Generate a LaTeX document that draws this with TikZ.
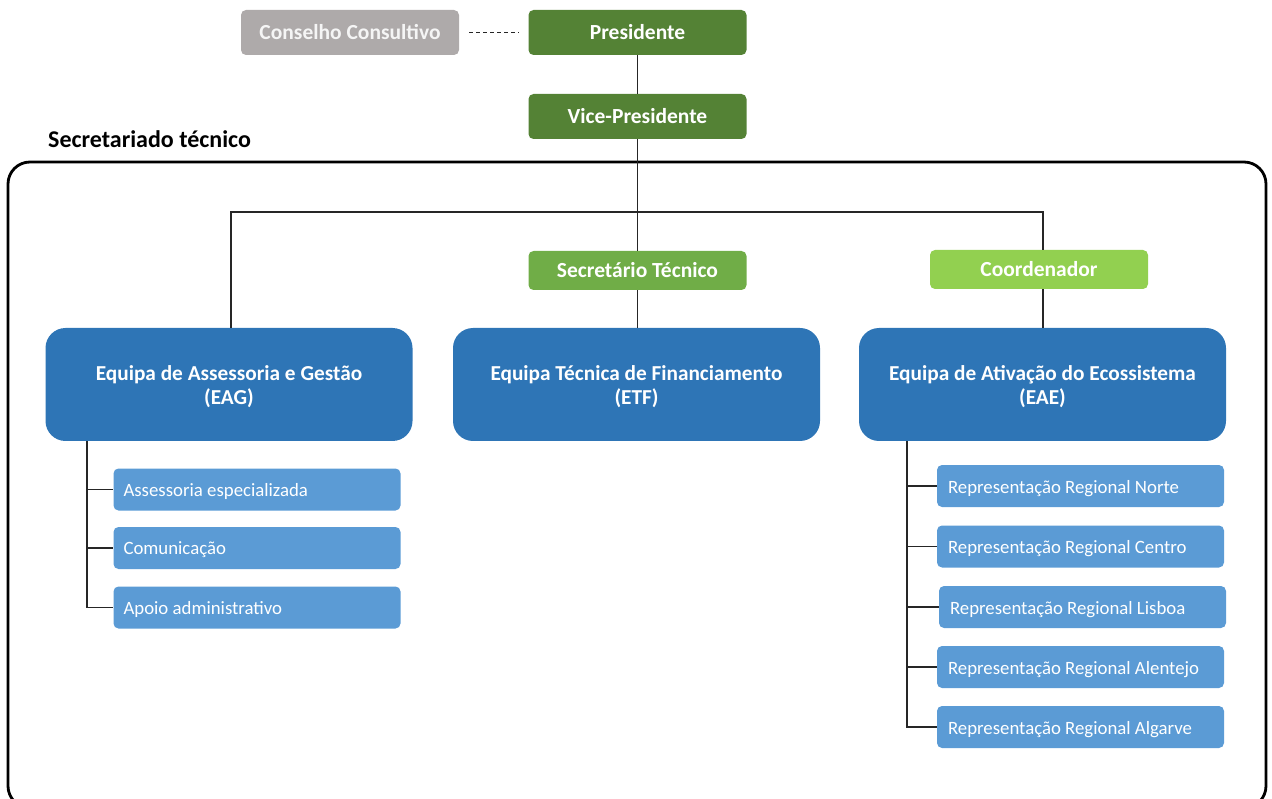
\documentclass[tikz,border=0pt]{standalone}
\usepackage{fontspec}
\setmainfont{Carlito}
\definecolor{dkgreen}{HTML}{548235}
\definecolor{mdgreen}{HTML}{70AD47}
\definecolor{ltgreen}{HTML}{92D050}
\definecolor{grayb}{HTML}{AEAAAA}
\definecolor{bigblue}{HTML}{2E75B6}
\definecolor{subblue}{HTML}{5B9BD5}
\definecolor{linec}{HTML}{262626}
\begin{document}
\begin{tikzpicture}[x=1pt,y=-1pt,
  topbox/.style={rounded corners=5pt, inner sep=0pt, minimum width=218pt, minimum height=45pt, text=white, font=\fontsize{21.5}{24}\selectfont\bfseries},
  bigbox/.style={rounded corners=20pt, inner sep=0pt, fill=bigblue, minimum width=367pt, minimum height=113pt, text=white, align=center, font=\fontsize{21.3}{24.5}\selectfont\bfseries},
  bigtxt/.style={inner sep=0pt, text=white, align=center, font=\fontsize{21.3}{24.5}\selectfont\bfseries},
  subbox/.style={rounded corners=5pt, inner sep=0pt, fill=subblue, minimum width=287pt, minimum height=42pt},
  subtxt/.style={anchor=west, inner sep=0pt, text=white, font=\fontsize{18.8}{21}\selectfont},
  conn/.style={draw=linec, line width=1.3pt}
]
\useasboundingbox (0,0) rectangle (1272,799);
% outer frame
\draw[line width=2.8pt, rounded corners=22pt] (8,162) rectangle (1266,808);
\node[anchor=base west, inner sep=0pt, font=\fontsize{24}{26}\selectfont\bfseries] (sec) at (48,147.5) {Secretariado técnico};

% top
\node[topbox, fill=grayb, text=white!92!gray] (cc) at (350,32.5) {Conselho Consultivo};
\node[topbox, fill=dkgreen] (pres) at (637.5,32.5) {Presidente};
\node[topbox, fill=dkgreen] (vice) at (637.5,116.5) {Vice-Presidente};
\node[topbox, fill=mdgreen, minimum height=39pt] (st) at (637.5,270.5) {Secretário Técnico};
\node[topbox, fill=ltgreen, minimum height=39pt] (coord) at (1039,269.5) {Coordenador};

% big boxes
\node[bigbox] (eag) at (229,384.5) {};
\node[bigbox] (etf) at (636.5,384.5) {};
\node[bigbox] (eae) at (1042.5,384.5) {};
\node[bigtxt] at ([yshift=-2pt]eag.center) {Equipa de Assessoria e Gestão\\(EAG)};
\node[bigtxt] at ([yshift=-2pt]etf.center) {Equipa Técnica de Financiamento\\(ETF)};
\node[bigtxt] at ([yshift=-2pt]eae.center) {Equipa de Ativação do Ecossistema\\(EAE)};

% sub boxes EAG
\node[subbox] (a1) at (257,489.5) {};
\node[subbox] (a2) at (257,548) {};
\node[subbox] (a3) at (257,607.5) {};
\node[subtxt] at ([xshift=10pt,yshift=-2pt]a1.west) {Assessoria especializada};
\node[subtxt] at ([xshift=10pt,yshift=-2pt]a2.west) {Comunicação};
\node[subtxt] at ([xshift=10pt,yshift=-2pt]a3.west) {Apoio administrativo};

% sub boxes EAE
\node[subbox] (r1) at (1080.5,486) {};
\node[subbox] (r2) at (1080.5,546.5) {};
\node[subbox] (r3) at (1082.5,607) {};
\node[subbox] (r4) at (1080.5,667) {};
\node[subbox] (r5) at (1080.5,727) {};
\node[subtxt] at ([xshift=11pt,yshift=-2.5pt]r1.west) {Representação Regional Norte};
\node[subtxt] at ([xshift=11pt,yshift=-2.5pt]r2.west) {Representação Regional Centro};
\node[subtxt] at ([xshift=11pt,yshift=-2.5pt]r3.west) {Representação Regional Lisboa};
\node[subtxt] at ([xshift=11pt,yshift=-2.5pt]r4.west) {Representação Regional Alentejo};
\node[subtxt] at ([xshift=11pt,yshift=-2.5pt]r5.west) {Representação Regional Algarve};

% connectors
\draw[conn, line width=1pt, dash pattern=on 4pt off 3pt] ([xshift=10pt]cc.east) -- ([xshift=-10pt]pres.west);
\draw[conn] (pres.south) -- (vice.north);
\coordinate (bar) at (637.5,212);
\draw[conn] (vice.south) -- (st.north);
\draw[conn] (st.south) -- (etf.north -| st.south);
\draw[conn] (eag.north -| 231,0) |- (bar) -| (coord.north -| 1043,0);
\draw[conn] (coord.south -| 1043,0) -- (eae.north -| 1043,0);

\coordinate (ea) at (87,441);
\draw[conn] (ea) |- (a3.west);
\draw[conn] (a1.west -| ea) -- (a1.west);
\draw[conn] (a2.west -| ea) -- (a2.west);

\coordinate (ee) at (907,441);
\draw[conn] (ee) |- (r5.west);
\draw[conn] (r1.west -| ee) -- (r1.west);
\draw[conn] (r2.west -| ee) -- (r2.west);
\draw[conn] (r3.west -| ee) -- (r3.west);
\draw[conn] (r4.west -| ee) -- (r4.west);
\end{tikzpicture}
\end{document}
